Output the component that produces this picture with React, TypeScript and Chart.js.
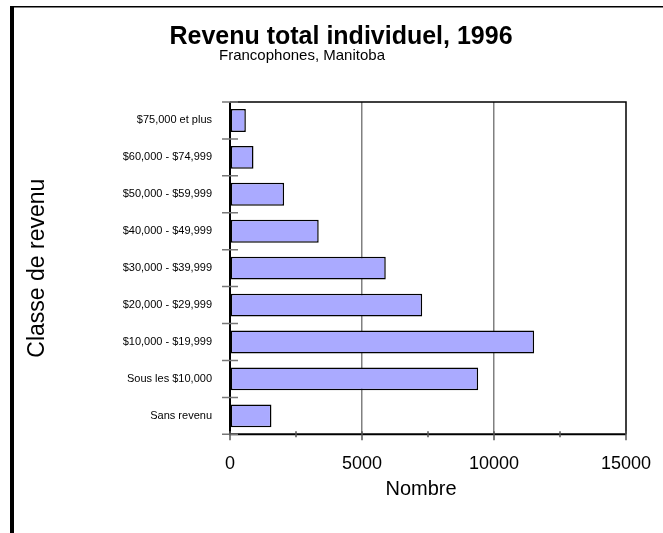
import React, { useEffect, useRef } from 'react';
import { Chart, registerables } from 'chart.js';

Chart.register(...registerables);

const titleText = 'Revenu total individuel, 1996';
const subtitleText = 'Francophones, Manitoba';
const xTitleText = 'Nombre';
const categories = [
  '$75,000 et plus',
  '$60,000 - $74,999',
  '$50,000 - $59,999',
  '$40,000 - $49,999',
  '$30,000 - $39,999',
  '$20,000 - $29,999',
  '$10,000 - $19,999',
  'Sous les $10,000',
  'Sans revenu',
];
const counts = [600, 890, 2050, 3360, 5900, 7280, 11520, 9400, 1570];
const xMajorTicks = [0, 5000, 10000, 15000];
const xMinorTicks = [2500, 7500, 12500];

const FONT = "'Liberation Sans', Arial, Helvetica, sans-serif";

const decor = {
  id: 'decor',
  afterDraw(chart: any) {
    const { ctx, chartArea: a, scales } = chart;
    const x = scales.x;
    const y = scales.y;
    ctx.save();
    // outer frame
    ctx.fillStyle = '#000';
    ctx.fillRect(10, 6, 4, chart.height - 6);
    ctx.fillRect(10, 6, chart.width - 10, 1.5);
    // titles
    ctx.textAlign = 'center';
    ctx.textBaseline = 'alphabetic';
    ctx.font = `bold 25px ${FONT}`;
    ctx.fillText(titleText, 341, 44);
    ctx.font = `15px ${FONT}`;
    ctx.fillText(subtitleText, 302, 60);
    ctx.font = `20px ${FONT}`;
    ctx.textBaseline = 'middle';
    ctx.fillText(xTitleText, 421, 489);
    // plot box
    ctx.strokeStyle = '#000';
    ctx.lineWidth = 1.5;
    ctx.beginPath();
    ctx.moveTo(a.left, a.top);
    ctx.lineTo(a.right, a.top);
    ctx.lineTo(a.right, a.bottom);
    ctx.stroke();
    ctx.lineWidth = 2;
    ctx.beginPath();
    ctx.moveTo(a.left, a.top);
    ctx.lineTo(a.left, a.bottom);
    ctx.lineTo(a.right, a.bottom);
    ctx.stroke();
    // y ticks at category boundaries
    ctx.strokeStyle = '#777';
    ctx.lineWidth = 1.5;
    ctx.beginPath();
    for (let i = 0; i <= categories.length; i++) {
      const py = y.getPixelForValue(i - 0.5);
      ctx.moveTo(a.left - 8, py);
      ctx.lineTo(a.left + 8, py);
    }
    ctx.stroke();
    // x ticks
    ctx.strokeStyle = '#555';
    ctx.beginPath();
    xMajorTicks.forEach((v) => {
      const px = x.getPixelForValue(v);
      ctx.moveTo(px, a.bottom - 3);
      ctx.lineTo(px, a.bottom + 6);
    });
    xMinorTicks.forEach((v) => {
      const px = x.getPixelForValue(v);
      ctx.moveTo(px, a.bottom - 3);
      ctx.lineTo(px, a.bottom + 3);
    });
    ctx.stroke();
    ctx.restore();
  },
};

export default function App() {
  const ref = useRef<HTMLCanvasElement>(null);
  useEffect(() => {
    if (!ref.current) return;
    const chart = new Chart(ref.current, {
      type: 'bar',
      data: {
        labels: categories,
        datasets: [
          {
            data: counts,
            backgroundColor: '#aaaaff',
            borderColor: '#000',
            borderWidth: 1.5,
            borderSkipped: false,
            categoryPercentage: 1,
            barPercentage: 0.62,
          },
        ],
      },
      options: {
        indexAxis: 'y',
        responsive: false,
        animation: false,
        layout: { padding: { left: 20, right: 37, top: 102, bottom: 20 } },
        plugins: {
          legend: { display: false },
          tooltip: { enabled: false },
          title: { display: false },
        },
        scales: {
          x: {
            type: 'linear',
            min: 0,
            max: 15000,
            afterFit: (s: any) => {
              s.height = 78.7;
              s.paddingLeft = 0;
              s.paddingRight = 0;
            },
            afterBuildTicks: (s: any) => {
              s.ticks = xMajorTicks.map((v) => ({ value: v }));
            },
            ticks: {
              color: '#000',
              font: { family: FONT, size: 18 },
              padding: 19,
              maxRotation: 0,
              callback: (v: any) => String(v),
            },
            grid: {
              color: (c: any) => (c.tick && (c.tick.value === 5000 || c.tick.value === 10000) ? '#808080' : 'rgba(0,0,0,0)'),
              lineWidth: 1.5,
              drawTicks: false,
            },
            border: { display: false },
            title: { display: false },
          },
          y: {
            type: 'category',
            afterFit: (s: any) => {
              s.width = 210;
              s.paddingTop = 0;
              s.paddingBottom = 0;
            },
            ticks: {
              color: '#000',
              font: { family: FONT, size: 11 },
              padding: 18,
            },
            grid: { display: false, drawTicks: false },
            border: { display: false },
            title: {
              display: true,
              text: 'Classe de revenu',
              color: '#000',
              font: { family: FONT, size: 23 },
              padding: { top: 4, bottom: 0 },
            },
          },
        },
      },
      plugins: [decor],
    });
    return () => chart.destroy();
  }, []);
  return (
    <div style={{ position: 'absolute', left: 0, top: 0, width: 663, height: 533 }}>
      <canvas ref={ref} width={663} height={533} />
    </div>
  );
}
